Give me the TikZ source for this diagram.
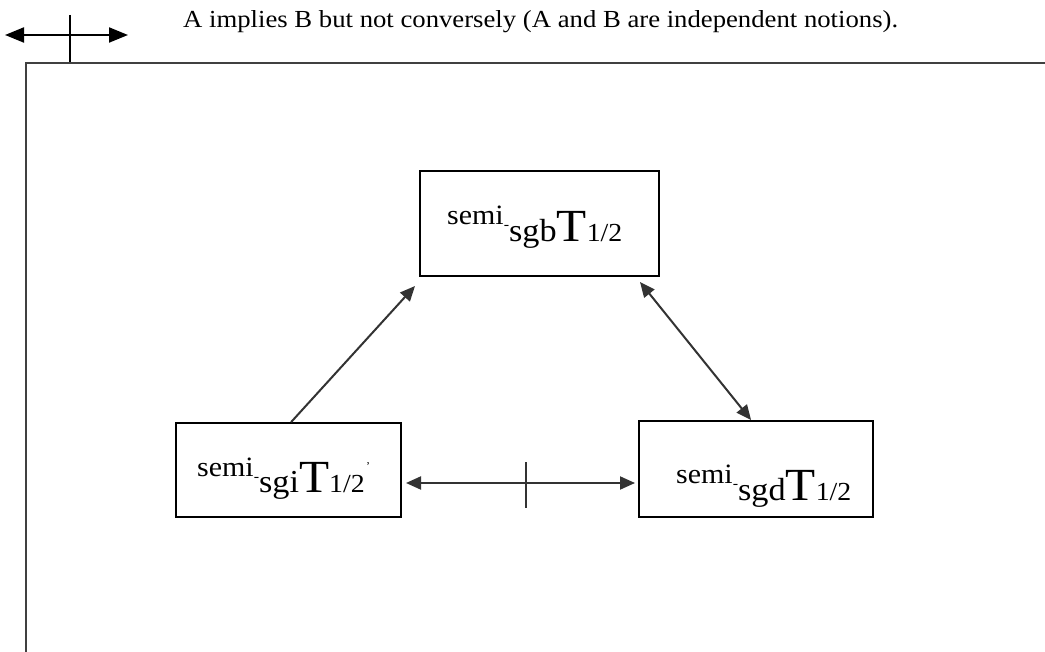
\documentclass[tikz,border=0pt]{standalone}
\usepackage{fontspec}
\setmainfont{Liberation Serif}
\usetikzlibrary{arrows.meta,calc}
\newcommand{\semiT}[1]{\scalebox{1.07}[1]{%
{\fontsize{28}{30}\selectfont\raisebox{17pt}{semi}}%
\raisebox{12pt}{\fontsize{15}{15}\selectfont -}%
{\fontsize{32}{34}\selectfont #1}%
{\fontsize{46}{46}\selectfont T}%
{\fontsize{26}{28}\selectfont 1/2}}}
\begin{document}
\begin{tikzpicture}[x=1pt,y=-1pt,
  frame/.style={draw=black!75, line width=2.2pt},
  box/.style={draw=black, line width=1.8pt, fill=none, inner sep=0pt},
  lbl/.style={inner sep=0pt, anchor=base west},
  arr/.style={draw=black!80, line width=2pt, -{Triangle[length=15pt,width=13pt]}},
  darr/.style={draw=black!80, line width=2pt, {Triangle[length=15pt,width=13pt]}-{Triangle[length=15pt,width=13pt]}},
  larr/.style={draw=black, line width=2pt, {Triangle[length=19pt,width=15pt]}-{Triangle[length=19pt,width=15pt]}},
  tick/.style={draw=black!80, line width=1.8pt}]
\useasboundingbox (0,0) rectangle (1045,652);
% legend
\coordinate (lgl) at (5,35);
\coordinate (lgr) at (128,35);
\coordinate (lgt) at (70,15);
\coordinate (lgb) at (70,62);
\draw[larr] (lgl) -- (lgr);
\draw[tick, draw=black] (lgt) -- (lgb);
\node[lbl] (legend) at (183,28) {\scalebox{1.09}[1]{\fontsize{24.5}{26}\selectfont A implies B but not conversely (A and B are independent notions).}};
% frame
\draw[frame] (26,652) -- (26,63) -- (1045,63);
% boxes
\node[box, minimum width=239pt, minimum height=105pt] (sgb) at (539.5,223.5) {};
\node[box, minimum width=225pt, minimum height=94pt] (sgi) at (288.5,470) {};
\node[box, minimum width=234pt, minimum height=96pt] (sgd) at (756,469) {};
\node[lbl] (sgbt) at (447,242) {\semiT{sgb}};
\node[lbl] (sgit) at (197,493) {\semiT{sgi}};
\node[lbl, font=\fontsize{12}{12}\selectfont] (stray) at (366,470) {'};
\node[lbl] (sgdt) at (676,500) {\semiT{sgd}};
% connectors
\coordinate (a1e) at (415,286);
\draw[arr] ($(sgi.north west)+(116,0)$) -- (a1e);
\coordinate (a2s) at (640,282);
\draw[darr] (a2s) -- ($(sgd.north west)+(113,0)$);
\coordinate (a3s) at (406,483);
\coordinate (a3e) at (635,483);
\draw[darr] (a3s) -- (a3e);
\coordinate (t3t) at (526,462);
\coordinate (t3b) at (526,508);
\draw[tick] (t3t) -- (t3b);
\end{tikzpicture}
\end{document}
